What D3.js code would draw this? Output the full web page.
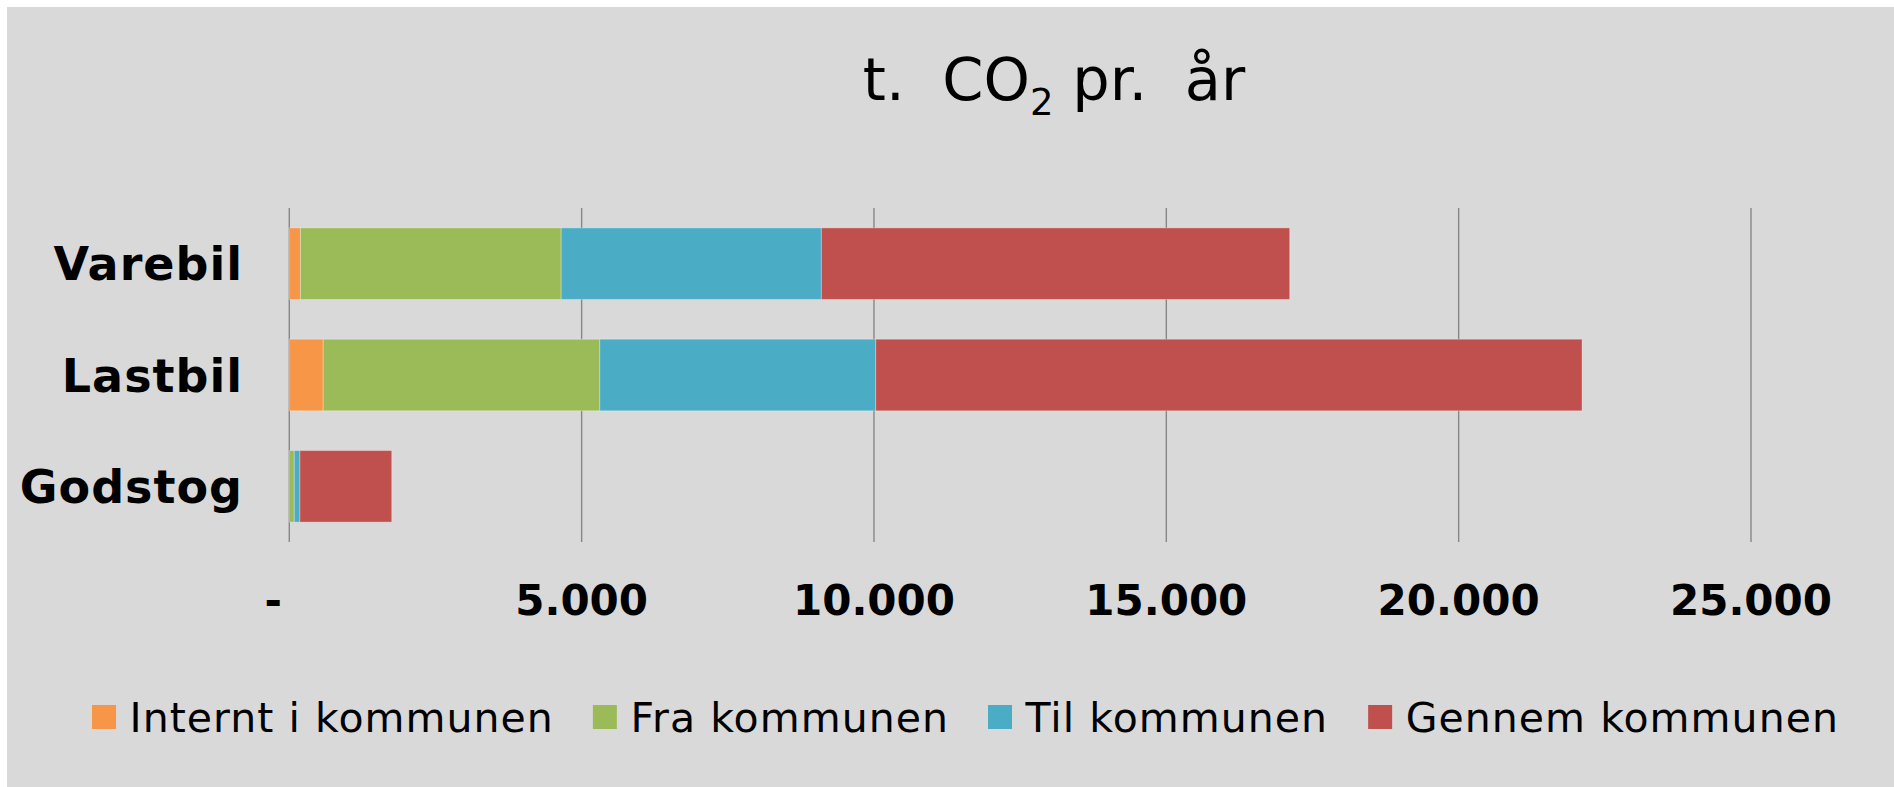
<!DOCTYPE html>
<html>
<head>
<meta charset="utf-8">
<script src="https://cdn.jsdelivr.net/npm/d3@7"></script>
<style>
  html, body { margin: 0; padding: 0; background: #fff; }
  svg { display: block; }
</style>
</head>
<body>
<div id="chart"></div>
<script>
// ================================
// t. CO2 pr. år — stacked horizontal bars
// ================================

const CATEGORIES = ["Varebil", "Lastbil", "Godstog"];

const SERIES = ["Internt i kommunen", "Fra kommunen", "Til kommunen", "Gennem kommunen"];

// values per category (same order as CATEGORIES)
const INTERNT = [190, 580, 0];
const FRA = [4460, 4730, 85];
const TIL = [4450, 4720, 97];
const GENNEM = [8010, 12080, 1570];

const TICKS = [0, 5000, 10000, 15000, 20000, 25000];

const COLORS = ["#F79646", "#9BBB59", "#4BACC6", "#C0504D"];

const W = 1894;
const H = 787;
const FONT = "'DejaVu Sans', Verdana, sans-serif";

const svg = d3.select("#chart")
  .append("svg")
  .attr("width", W)
  .attr("height", H);

// chart area background (thin white edge top/left like the original)
svg.append("rect")
  .attr("x", 7)
  .attr("y", 7)
  .attr("width", W - 7)
  .attr("height", H - 7)
  .attr("fill", "#D9D9D9");

// ================================
// Title
// ================================
const title = svg.append("text")
  .attr("x", 1054)
  .attr("y", 100)
  .attr("text-anchor", "middle")
  .attr("font-family", FONT)
  .attr("font-size", 59)
  .attr("fill", "#000");

title.append("tspan").text("t.\u00A0 CO");
title.append("tspan")
  .attr("font-size", 37)
  .attr("dy", 15)
  .text("2");
title.append("tspan")
  .attr("dy", -15)
  .text(" pr.\u00A0 år");

// ================================
// Scales
// ================================
const x = d3.scaleLinear()
  .domain([0, 25000])
  .range([289.3, 1751]);

const y = d3.scaleBand()
  .domain(CATEGORIES)
  .range([208, 542])
  .paddingInner(0.357)
  .paddingOuter(0.1785);

const fmt = d3.formatLocale({
  decimal: ",",
  thousands: ".",
  grouping: [3],
  currency: ["", ""],
}).format(",d");

// gridlines
svg.append("g")
  .selectAll("line")
  .data(TICKS)
  .enter()
  .append("line")
  .attr("x1", (d) => x(d))
  .attr("x2", (d) => x(d))
  .attr("y1", 208)
  .attr("y2", 542)
  .attr("stroke", "#878787")
  .attr("stroke-width", 1.4);

// x axis labels (zero is shown as a dash, set a bit to the left)
svg.append("g")
  .selectAll("text")
  .data(TICKS)
  .enter()
  .append("text")
  .attr("x", (d) => x(d))
  .attr("y", 615)
  .attr("dx", (d) => (d === 0 ? -16 : 0))
  .attr("text-anchor", "middle")
  .attr("font-family", FONT)
  .attr("font-weight", "bold")
  .attr("font-size", 42)
  .attr("fill", "#000")
  .text((d) => (d === 0 ? "-" : fmt(d)));

// category labels
svg.append("g")
  .selectAll("text")
  .data(CATEGORIES)
  .enter()
  .append("text")
  .attr("x", 243)
  .attr("y", (d) => y(d) + y.bandwidth() / 2)
  .attr("dy", "0.36em")
  .attr("text-anchor", "end")
  .attr("font-family", FONT)
  .attr("font-weight", "bold")
  .attr("font-size", 46)
  .attr("letter-spacing", 1)
  .attr("fill", "#000")
  .text((d) => d);

// ================================
// Stacked bars
// ================================
const rows = CATEGORIES.map((c, i) => ({
  cat: c,
  [SERIES[0]]: INTERNT[i],
  [SERIES[1]]: FRA[i],
  [SERIES[2]]: TIL[i],
  [SERIES[3]]: GENNEM[i],
}));

const stacked = d3.stack().keys(SERIES)(rows);

svg.append("g")
  .selectAll("g")
  .data(stacked)
  .enter()
  .append("g")
  .attr("fill", (d, i) => COLORS[i])
  .selectAll("rect")
  .data((d) => d)
  .enter()
  .append("rect")
  .attr("x", (d) => x(d[0]))
  .attr("y", (d) => y(d.data.cat))
  .attr("width", (d) => Math.max(0, x(d[1]) - x(d[0])))
  .attr("height", y.bandwidth())
  .attr("stroke", "#fff")
  .attr("stroke-opacity", 0.3)
  .attr("stroke-width", 1);

// ================================
// Legend
// ================================
const legend = svg.append("g");
let lx = 0;
SERIES.forEach((s, i) => {
  const item = legend.append("g").attr("transform", `translate(${lx},0)`);
  item.append("rect")
    .attr("x", 0)
    .attr("y", 705)
    .attr("width", 24)
    .attr("height", 24)
    .attr("fill", COLORS[i]);
  const t = item.append("text")
    .attr("x", 37.5)
    .attr("y", 732)
    .attr("font-family", FONT)
    .attr("font-size", 41)
    .attr("letter-spacing", 1.05)
    .attr("fill", "#000")
    .text(s);
  lx += 37.5 + t.node().getBBox().width + 39;
});
const legendWidth = lx - 39;
legend.attr("transform", `translate(${965.5 - legendWidth / 2},0)`);
</script>
</body>
</html>
